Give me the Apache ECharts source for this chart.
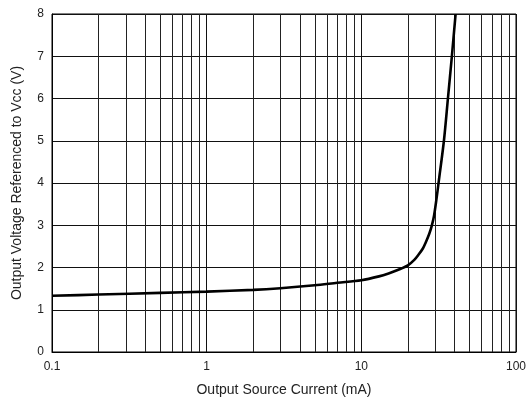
<!DOCTYPE html>
<html>
<head>
<meta charset="utf-8">
<script src="https://cdn.jsdelivr.net/npm/echarts@6/dist/echarts.min.js"></script>
<style>html,body{margin:0;padding:0;background:#fff}#c{width:529px;height:406px}</style>
</head>
<body>
<div id="c"></div>
<script>
var currentMA = [0.1, 0.2, 0.5, 1, 2, 3, 5, 7, 10, 13, 15, 18, 20, 22, 23.4, 25, 26, 27.5, 28.5, 29.5, 30.5, 31.7, 34.2, 36.3, 38.5, 40.7];
var voltage   = [1.33, 1.36, 1.40, 1.43, 1.47, 1.51, 1.58, 1.64, 1.70, 1.79, 1.86, 1.97, 2.05, 2.18, 2.30, 2.45, 2.58, 2.8, 2.98, 3.22, 3.58, 4.05, 5.0, 6.0, 7.0, 8.0];
var minorGridX = [0.2,0.3,0.4,0.5,0.6,0.7,0.8,0.9,2,3,4,5,6,7,8,9,20,30,40,50,60,70,80,90];
var xTicks = [0.1, 1, 10, 100];

var chart = echarts.init(document.getElementById('c'));
var font = 'Liberation Sans, Arial, sans-serif';
chart.setOption({
  animation: false,
  grid: {left: 52, right: 11, top: 14, bottom: 54, show: true, borderColor: '#000', borderWidth: 1},
  xAxis: {
    type: 'log', logBase: 10, min: 0.1, max: 100,
    name: 'Output Source Current (mA)', nameLocation: 'middle', nameGap: 31,
    nameTextStyle: {fontFamily: font, fontSize: 14, color: '#222'},
    axisLine: {show: true, lineStyle: {color: '#000', width: 1}},
    axisTick: {show: false},
    axisLabel: {fontFamily: font, fontSize: 12, color: '#222', margin: 9,
      formatter: function(v){ return xTicks.indexOf(+v) >= 0 ? String(+v) : ''; }},
    splitLine: {show: true, lineStyle: {color: '#111', width: 1}}
  },
  yAxis: {
    type: 'value', min: 0, max: 8, interval: 1,
    name: 'Output Voltage Referenced to Vcc (V)', nameLocation: 'middle', nameGap: 28,
    nameTextStyle: {fontFamily: font, fontSize: 14, color: '#222'},
    axisLine: {show: true, lineStyle: {color: '#000', width: 1}},
    axisTick: {show: false},
    axisLabel: {fontFamily: font, fontSize: 12, color: '#222', margin: 8},
    splitLine: {show: true, lineStyle: {color: '#111', width: 1}}
  },
  series: [{
    type: 'line',
    data: currentMA.map(function(x, i){ return [x, voltage[i]]; }),
    smooth: 0.3,
    showSymbol: false,
    lineStyle: {color: '#000', width: 2.6},
    markLine: {
      silent: true, symbol: 'none', label: {show: false},
      lineStyle: {color: '#222', width: 1, type: 'solid'},
      data: minorGridX.map(function(v){ return {xAxis: v}; })
    },
    z: 5
  }]
});
</script>
</body>
</html>
